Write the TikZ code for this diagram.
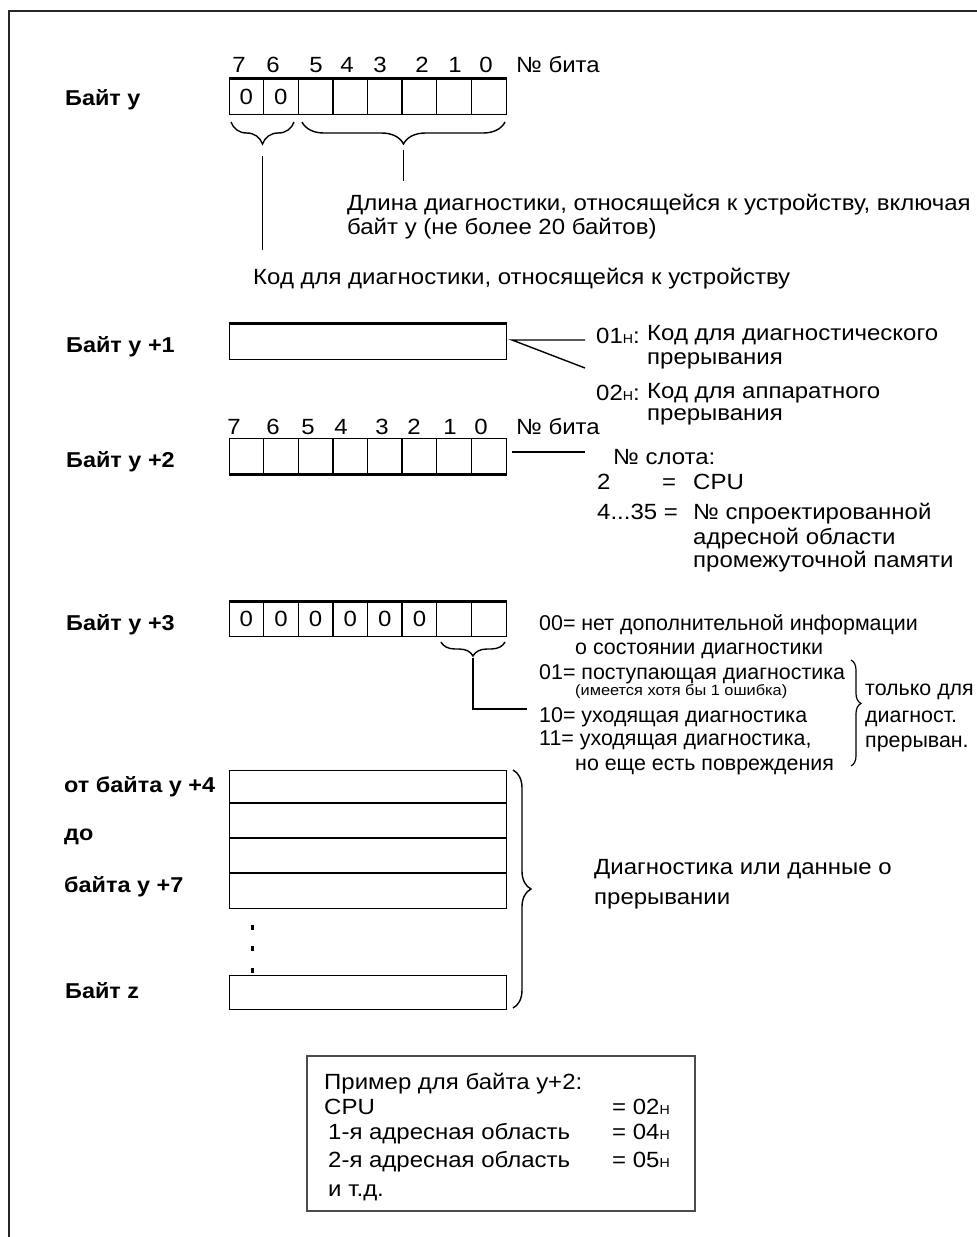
\documentclass[tikz,border=0pt]{standalone}
\usepackage{fontspec}
\setmainfont[FakeStretch=1.09]{Liberation Sans}
\newfontfamily\plainf{Liberation Sans}
\usetikzlibrary{decorations.pathreplacing,calc}
\newcommand\hsub{{\fontsize{13}{13}\selectfont H}}
\begin{document}
\begin{tikzpicture}[x=1pt,y=-1pt,
  txt/.style={anchor=base west,inner sep=0pt,font=\fontsize{22}{24}\selectfont},
  ptxt/.style={anchor=base west,inner sep=0pt,font=\plainf\fontsize{21.4}{24}\selectfont},
  sml/.style={anchor=base west,inner sep=0pt,font=\fontsize{15}{17}\selectfont},
  lbl/.style={anchor=base west,inner sep=0pt,font=\fontsize{21.5}{24}\selectfont\bfseries},
  dig/.style={anchor=base,inner sep=0pt,font=\fontsize{22}{24}\selectfont},
  ln/.style={line width=1.4pt},
  thk/.style={line width=3pt},
  bytebox/.style={draw,line width=1.4pt,inner sep=0pt,anchor=north west,minimum width=277pt,minimum height=#1},
  brc/.style={line width=1.4pt,decorate,decoration={brace,amplitude=#1}},
]
\useasboundingbox (0,0) rectangle (977,1237);
% frame
\coordinate (fl) at (9,1240);
\coordinate (fc) at (9,11);
\coordinate (fr) at (980,11);
\draw[line width=1.5pt,black!85] (fl) -- (fc) -- (fr);

% ---------- Byte y ----------
\foreach \d/\x [count=\k] in {7/239,6/273,5/316,4/347,3/380,2/422,1/455,0/486}
  \node[dig] (d1\k) at (\x,72) {\d};
\node[txt] (nb1) at (516,72) {№ бита};
\node[lbl] (lby) at (65,105) {Байт y};
\node[bytebox=36pt] (by) at (229,78) {};
\draw[thk] (by.north west) -- (by.north east);
\foreach \i in {1,...,7}
  \draw[ln] ($(by.north west)+(\i*34.625,0)$) -- ($(by.south west)+(\i*34.625,0)$);
\node[dig] (z1) at (246.3,104) {0};
\node[dig] (z2) at (280.9,104) {0};
\draw[brc=22] (294,122) -- (231,122);
\draw[brc=22] (505,122) -- (302,122);
\coordinate (ta) at (262.5,156);
\coordinate (tb) at (403.5,150);
\node[txt] (dl1) at (347,210) {Длина диагностики, относящейся к устройству, включая};
\node[txt] (dl2) at (347,234) {байт y (не более 20 байтов)};
\node[txt] (kod) at (253,284) {Код для диагностики, относящейся к устройству};
\coordinate (tae) at (262.5,250);
\coordinate (tbe) at (403.5,181);
\draw[ln] (ta) -- (tae);
\draw[ln] (tb) -- (tbe);

% ---------- Byte y+1 ----------
\node[lbl] (lby1) at (66,352) {Байт y +1};
\node[bytebox=36pt] (by1) at (229,323) {};
\draw[thk] (by1.north west) -- (by1.north east);
\coordinate (p1) at (512,340);
\coordinate (p1a) at (585,340);
\coordinate (p1b) at (585,368);
\draw[ln] (p1a) -- (p1) -- (p1b);
\node[txt] (c01) at (596,343) {01\hsub:};
\node[txt] (c01t) at (647,340) {Код для диагностического};
\node[txt] (c01u) at (647,364) {прерывания};
\node[txt] (c02) at (596,400) {02\hsub:};
\node[txt] (c02t) at (647,398) {Код для аппаратного};
\node[txt] (c02u) at (647,420) {прерывания};

% ---------- Byte y+2 ----------
\foreach \d/\x [count=\k] in {7/234,6/273,5/308,4/341,3/382,2/414,1/450,0/481}
  \node[dig] (d2\k) at (\x,434) {\d};
\node[txt] (nb2) at (516,434) {№ бита};
\node[lbl] (lby2) at (66,467) {Байт y +2};
\node[bytebox=35pt] (by2) at (229,438) {};
\draw[thk] (by2.south west) -- (by2.south east);
\foreach \i in {1,...,7}
  \draw[ln] ($(by2.north west)+(\i*34.625,0)$) -- ($(by2.south west)+(\i*34.625,0)$);
\coordinate (p2) at (512,452);
\coordinate (p2a) at (585,452);
\draw[ln] (p2) -- (p2a);
\node[txt] (sl) at (613,464) {№ слота:};
\node[txt] (s2) at (597,489) {2};
\node[txt] (s2e) at (662,489) {=};
\node[txt] (s2c) at (693,489) {CPU};
\node[txt] (s4) at (597,519) {4...35 =};
\node[txt] (s4a) at (693,519) {№ спроектированной};
\node[txt] (s4b) at (693,544) {адресной области};
\node[txt] (s4c) at (693,567) {промежуточной памяти};

% ---------- Byte y+3 ----------
\node[lbl] (lby3) at (66,630) {Байт y +3};
\node[bytebox=35pt] (by3) at (229,601) {};
\draw[thk] (by3.north west) -- (by3.north east);
\foreach \i in {1,...,7}
  \draw[ln] ($(by3.north west)+(\i*34.625,0)$) -- ($(by3.south west)+(\i*34.625,0)$);
\foreach \i in {0,...,5}
  \node[dig] (z3\i) at ({246.3+\i*34.625},626) {0};
\draw[brc=14] (505,642) -- (441,642);
\coordinate (tc) at (473,658);
\coordinate (tcc) at (473,709);
\coordinate (tce) at (527,709);
\draw[ln] (tc) -- (tcc) -- (tce);
\node[ptxt] (o00) at (539,630) {00= нет дополнительной информации};
\node[ptxt] (o00b) at (575,654) {о состоянии диагностики};
\node[ptxt] (o01) at (539,679) {01= поступающая диагностика};
\node[sml] (o01b) at (575,695) {(имеется хотя бы 1 ошибка)};
\node[ptxt] (o10) at (539,722) {10= уходящая диагностика};
\node[ptxt] (o11) at (539,745) {11= уходящая диагностика,};
\node[ptxt] (o11b) at (575,770) {но еще есть повреждения};
\draw[line width=1.2pt,decorate,decoration={brace,amplitude=10,aspect=0.41}] (851,660) -- (851,766);
\node[ptxt] (tl1) at (865,695) {только для};
\node[ptxt] (tl2) at (865,722) {диагност.};
\node[ptxt] (tl3) at (865,747) {прерыван.};

% ---------- Bytes y+4 .. z ----------
\node[lbl] (l4) at (64,792) {от байта y +4};
\node[lbl] (l5) at (64,840) {до};
\node[lbl] (l7) at (64,892) {байта y +7};
\node[bytebox=138pt] (b47) at (229,770) {};
\draw[ln] (229,803) -- (506,803);
\draw[ln] (229,838) -- (506,838);
\draw[ln] (229,873) -- (506,873);
\foreach \yy in {927,948,970}
  \fill (250.5,\yy-2.5) rectangle (254,\yy+2.5);
\node[lbl] (lz) at (65,998) {Байт z};
\node[bytebox=34pt] (bz) at (229,975) {};
\draw[brc=18] (513,770) -- (513,1008);
\node[txt] (dg1) at (594,874) {Диагностика или данные о};
\node[txt] (dg2) at (594,904) {прерывании};

% ---------- Example box ----------
\node[draw=black!70,line width=1.6pt,anchor=north west,minimum width=388pt,minimum height=155pt,inner sep=0pt] (ex) at (306,1055) {};
\node[txt] (e1) at (324,1089) {Пример для байта y+2:};
\node[txt] (e2) at (324,1114) {CPU};
\node[txt] (e2v) at (612,1114) {= 02\hsub};
\node[txt] (e3) at (328,1139) {1-я адресная область};
\node[txt] (e3v) at (612,1139) {= 04\hsub};
\node[txt] (e4) at (328,1167) {2-я адресная область};
\node[txt] (e4v) at (612,1167) {= 05\hsub};
\node[txt] (e5) at (328,1196) {и т.д.};
\end{tikzpicture}
\end{document}
